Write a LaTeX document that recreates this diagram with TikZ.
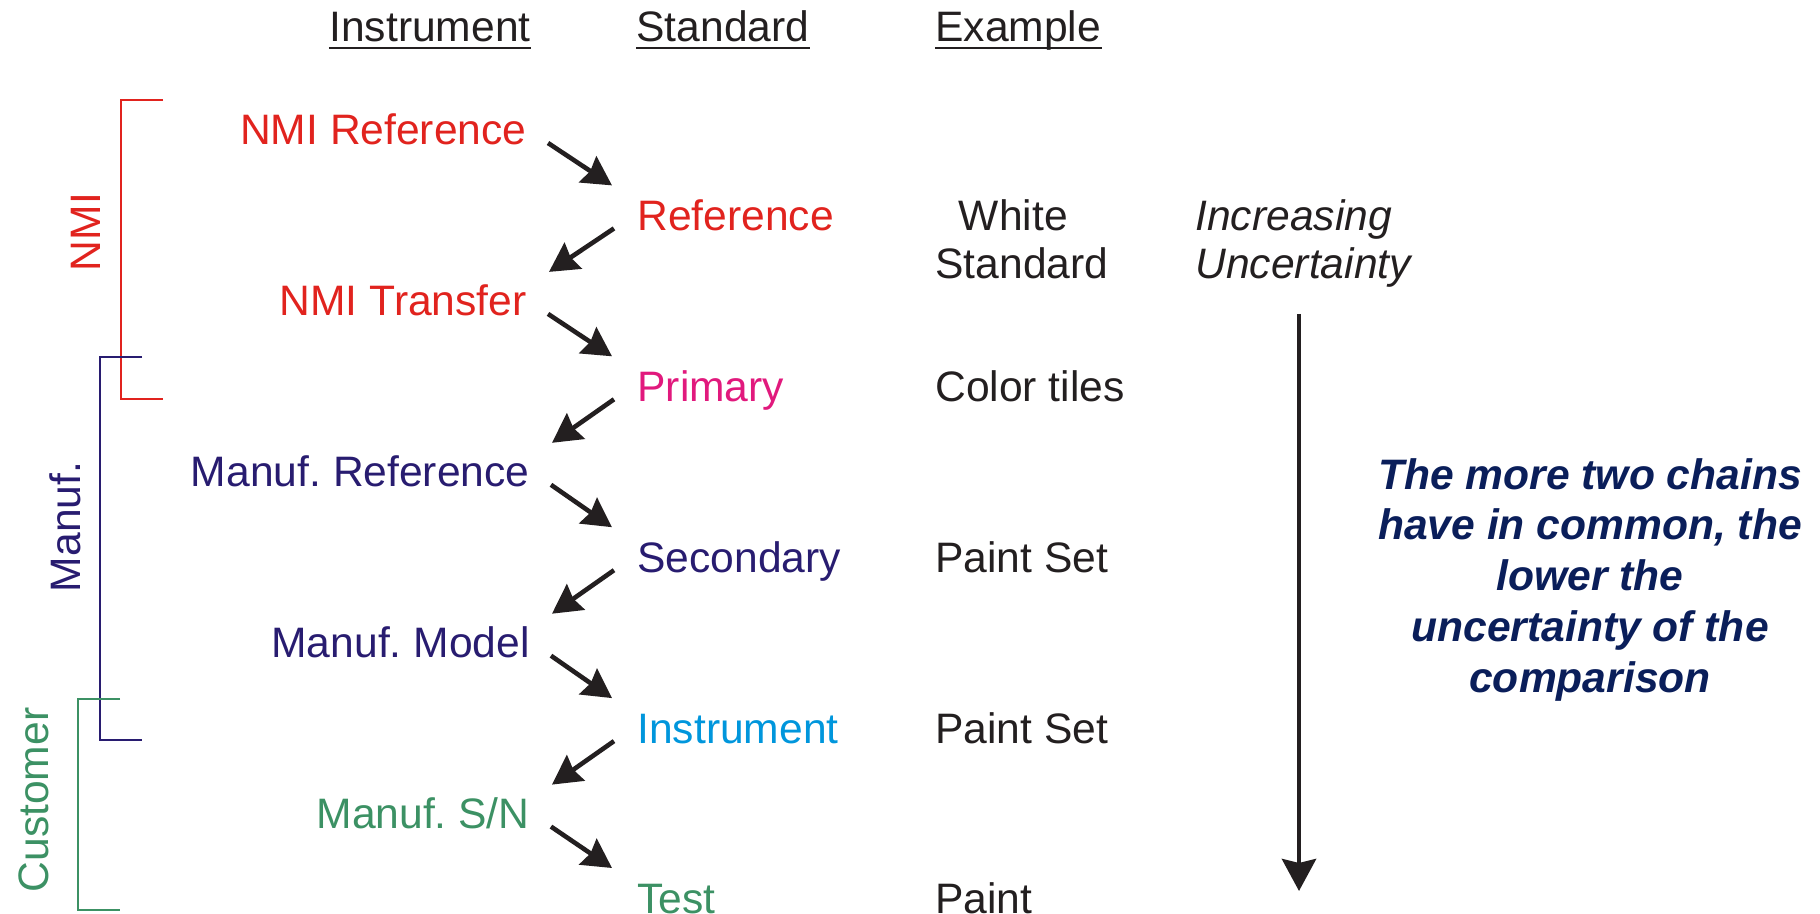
\documentclass[tikz,border=0pt]{standalone}
\usepackage{fontspec}
\setmainfont{Liberation Sans}
\usetikzlibrary{arrows.meta}

\definecolor{nmired}{RGB}{225,35,30}
\definecolor{primpink}{RGB}{225,25,125}
\definecolor{manufblue}{RGB}{40,28,112}
\definecolor{instblue}{RGB}{0,150,220}
\definecolor{custgreen}{RGB}{60,145,100}
\definecolor{notenavy}{RGB}{10,30,90}
\definecolor{ink}{RGB}{35,31,32}

\tikzset{
  lbl/.style={inner sep=0pt, font=\fontsize{21.3}{24}\selectfont},
  chainarrow/.style={draw=ink, line width=2.3pt, -{Stealth[length=14.5pt,width=15.5pt,inset=1.5pt]}},
  bracket/.style={line width=1pt}
}
\frenchspacing

\begin{document}
\begin{tikzpicture}[x=0.5pt,y=-0.5pt]
\useasboundingbox (0,0) rectangle (1820,914);

% Otsikot
\node[lbl, anchor=base east, text=ink] (hinst) at (531,42) {Instrument};
\node[lbl, anchor=base west, text=ink] (hstd) at (636,42) {Standard};
\node[lbl, anchor=base west, text=ink] (hex) at (935,42) {Example};
\foreach \h in {hinst, hstd, hex}
	\draw[ink, line width=1.2pt] ([yshift=-3pt]\h.base west) -- ([yshift=-3pt]\h.base east);

% Instruments and standards
\node[lbl, anchor=base east, text=nmired] (nmiref) at (527,145) {NMI Reference};
\node[lbl, anchor=base west, text=nmired] (ref) at (637,230.4) {Reference};
\node[lbl, anchor=base east, text=nmired] (nmitr) at (527,315.9) {NMI Transfer};
\node[lbl, anchor=base west, text=primpink] (prim) at (637,401.3) {Primary};
\node[lbl, anchor=base east, text=manufblue] (mref) at (530,486.8) {Manuf. Reference};
\node[lbl, anchor=base west, text=manufblue] (sec) at (637,572.2) {Secondary};
\node[lbl, anchor=base east, text=manufblue] (mmod) at (530,657.7) {Manuf. Model};
\node[lbl, anchor=base west, text=instblue] (inst) at (637,743.1) {Instrument};
\node[lbl, anchor=base east, text=custgreen] (msn) at (530,828.6) {Manuf. S/N};
\node[lbl, anchor=base west, text=custgreen] (test) at (637,913) {Test};

% Chain
\foreach \a/\b in {nmiref/ref, nmitr/prim, mref/sec, mmod/inst, msn/test}
	\draw[chainarrow] ([shift={(21,-2)}]\a.base east) -- ([shift={(-25,-45)}]\b.base west);
\foreach \a/\b in {ref/nmitr, prim/mref, sec/mmod, inst/msn}
	\draw[chainarrow] ([shift={(-23,-2)}]\a.base west) -- ([shift={(22,-44)}]\b.base east);

% Examples
\node[lbl, anchor=base west, align=left, text=ink] (white) at (935,278.6) {\hspace*{11.7pt}White\\Standard};
\node[lbl, anchor=base west, text=ink] (tiles) at (935,401.3) {Color tiles};
\node[lbl, anchor=base west, text=ink] (pset1) at (935,572.2) {Paint Set};
\node[lbl, anchor=base west, text=ink] (pset2) at (935,743.1) {Paint Set};
\node[lbl, anchor=base west, text=ink] (paint) at (935,913) {Paint};

% Uncertainty
\node[lbl, anchor=base west, align=left, text=ink, font=\fontsize{21.3}{24}\selectfont\itshape] (incr) at (1195,278.6) {Increasing\\Uncertainty};
\coordinate (atop) at (1299,314);
\coordinate (abot) at (1299,891);
\draw[ink, line width=2.4pt, -{Stealth[length=16pt,width=17pt,inset=2pt]}] (atop) -- (abot);
\node[lbl, anchor=base, align=center, text=notenavy, font=\fontsize{21.3}{25.4}\selectfont\bfseries\itshape] (note) at (1590,692.2)
	{The more two chains\\have in common, the\\lower the\\uncertainty of the\\comparison};

% Brackets
\draw[nmired, bracket] (163,100) -- (121,100) -- (121,399) -- (163,399);
\node[lbl, rotate=90, anchor=base, text=nmired] (nmilab) at (100,232) {NMI};
\draw[manufblue, bracket] (142,357) -- (100,357) -- (100,740) -- (142,740);
\node[lbl, rotate=90, anchor=base, text=manufblue] (manlab) at (80,527) {Manuf.};
\draw[custgreen, bracket] (120,699) -- (78,699) -- (78,910) -- (120,910);
\node[lbl, rotate=90, anchor=base, text=custgreen] (custlab) at (48,800) {Customer};

\end{tikzpicture}
\end{document}
